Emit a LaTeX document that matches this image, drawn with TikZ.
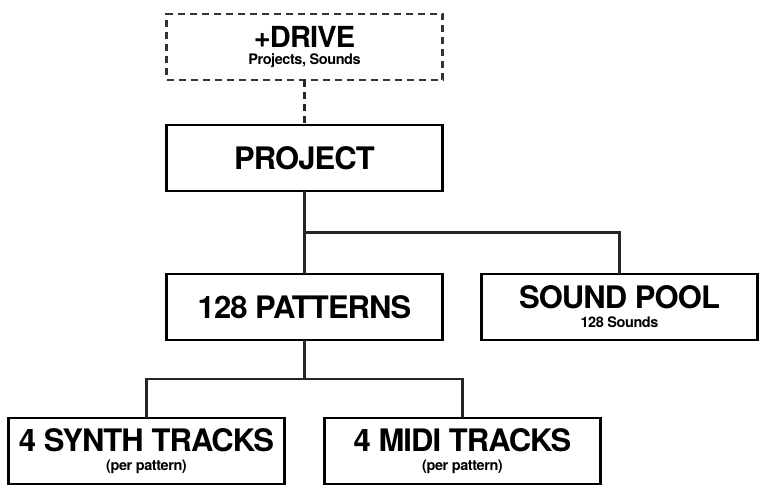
\documentclass[tikz,border=0pt]{standalone}
\usepackage{fontspec}
\newfontfamily\heros[LetterSpace=-3]{TeX Gyre Heros}
\usetikzlibrary{positioning,calc}

\newcommand{\boxsub}[1]{{\fontsize{14.5}{19}\selectfont #1}}

\begin{document}
\begin{tikzpicture}[
    x=1pt, y=-1pt,
    node distance=45pt,
    box/.style={rectangle, draw, line width=2.6pt, fill=white, minimum width=276pt, minimum height=66pt, inner sep=2pt, outer sep=0pt, align=center, font=\heros\bfseries\fontsize{31}{19}\selectfont},
    drivebox/.style={box, draw=black!80, dash pattern=on 7pt off 5pt, font=\heros\bfseries\fontsize{29}{16.5}\selectfont},
    link/.style={line width=2.4pt, draw=black!85},
]
    \useasboundingbox (0,0) rectangle (765,492);
    \node[drivebox] (D) at (304.5,47) {+DRIVE\\\boxsub{Projects, Sounds}};
    \node[box, below=45pt of D] (P) {PROJECT};
    \node[box, below=83pt of P] (PAT) {128 PATTERNS};
    \node[box, right=39pt of PAT] (S) {SOUND POOL\\\boxsub{128 Sounds}};
    \node[box, below=78pt of PAT, xshift=-158pt] (SY) {4 SYNTH TRACKS\\\boxsub{(per pattern)}};
    \node[box, below=78pt of PAT, xshift=158pt] (MI) {4 MIDI TRACKS\\\boxsub{(per pattern)}};
    % junctions
    \coordinate (j1) at ($(P.south)!0.5!(PAT.north)$);
    \coordinate (j2) at ($(PAT.south)!0.5!(SY.north -| PAT.south)$);
    \draw[link, dash pattern=on 7pt off 5pt] (D) -- (P);
    \draw[link] (P) -- (PAT);
    \draw[link] (j1) -| (S.north);
    \draw[link] (PAT.south) -- (j2);
    \draw[link] (SY.north) |- (j2) -| (MI.north);
\end{tikzpicture}
\end{document}
